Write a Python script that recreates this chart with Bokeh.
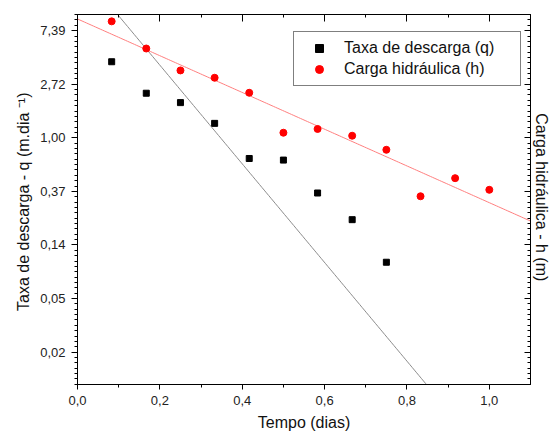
import math
import numpy as np
from bokeh.plotting import figure
from bokeh.models import (FixedTicker, LogAxis, LinearAxis, Range1d, DataRange1d,
                          Legend, LegendItem, Title)
from bokeh.embed import file_html
from bokeh.resources import INLINE

# ---- data ----
tempo = [0.083, 0.167, 0.25, 0.333, 0.417, 0.5, 0.583, 0.667, 0.75, 0.833, 0.917, 1.0]
taxa_q = [4.14, 2.30, 1.93, 1.31, 0.68, 0.66, 0.357, 0.217, 0.098]
carga_h = [8.8, 5.3, 3.52, 3.07, 2.32, 1.10, 1.18, 1.04, 0.80, 0.336, 0.471, 0.379]

# exponential fits  y = a * exp(-k t)
q_fit_a, q_fit_k = 24.5, 9.21
h_fit_a, h_fit_k = 9.2, 3.43

x_ticks = [0.0, 0.2, 0.4, 0.6, 0.8, 1.0]
x_tick_labels = ["0,0", "0,2", "0,4", "0,6", "0,8", "1,0"]
x_minor = [0.1, 0.3, 0.5, 0.7, 0.9]
y_exponents = [-4, -3, -2, -1, 0, 1, 2]
y_tick_labels = ["0,02", "0,05", "0,14", "0,37", "1,00", "2,72", "7,39"]

y_ticks = [math.exp(n) for n in y_exponents]
y_minor = [math.exp(n + k / 10) for n in range(-5, 3) for k in range(1, 10)]

FONT = "Liberation Sans"

p = figure(width=560, height=436, output_backend="svg", toolbar_location=None,
           y_axis_type="log", x_range=DataRange1d(start=0, end=1.1),
           y_range=Range1d(0.01, 10),
           min_border_left=77, min_border_right=30, min_border_top=14, min_border_bottom=52)
p.outline_line_color = "black"
p.xgrid.visible = False
p.ygrid.visible = False

def style(ax):
    ax.major_label_text_font = FONT
    ax.major_label_text_font_size = "13px"
    ax.major_label_text_color = "#222222"

# bottom axis
xa = p.xaxis[0]
xa.ticker = FixedTicker(ticks=x_ticks, minor_ticks=x_minor)
xa.major_label_overrides = dict(zip(x_ticks, x_tick_labels))
style(xa)
xa.major_tick_out = 5
xa.major_tick_in = 0
xa.minor_tick_out = 3
xa.minor_tick_in = 0
xa.major_label_standoff = 6

# left axis
ya = p.yaxis[0]
ya.ticker = FixedTicker(ticks=y_ticks, minor_ticks=y_minor)
ya.major_label_overrides = dict(zip(y_ticks, y_tick_labels))
style(ya)
ya.major_tick_out = 6
ya.major_tick_in = 0
ya.minor_tick_out = 3
ya.minor_tick_in = 0
ya.major_label_standoff = 6

# top axis (ticks only)
ta = LinearAxis(ticker=FixedTicker(ticks=x_ticks, minor_ticks=x_minor))
ta.major_tick_in = 7
ta.major_tick_out = 0
ta.minor_tick_in = 3
ta.minor_tick_out = 0
ta.major_label_text_font_size = "1px"
ta.major_label_text_color = None
ta.major_label_standoff = 0
p.add_layout(ta, "above")

# right axis (ticks only)
ra = LogAxis(ticker=FixedTicker(ticks=y_ticks, minor_ticks=y_minor))
ra.major_tick_in = 6
ra.major_tick_out = 0
ra.minor_tick_in = 3
ra.minor_tick_out = 0
ra.major_label_text_font_size = "1px"
ra.major_label_text_color = None
ra.major_label_standoff = 0
p.add_layout(ra, "right")

# axis titles
def title(text, side, standoff):
    t = Title(text=text, align="center", text_font=FONT, text_font_size="16px",
              text_font_style="normal", text_color="#111111", standoff=standoff)
    p.add_layout(t, side)

title("Tempo (dias)", "below", 9)
title("Taxa de descarga - q  (m.dia \u207b\u00b9)", "left", 12)
title("Carga hidr\u00e1ulica - h  (m)", "right", 5)

# fit lines
xf = np.linspace(0, 1.1, 200)
p.line(xf, q_fit_a * np.exp(-q_fit_k * xf), line_color="#8c8c8c", line_width=1)
p.line(xf, h_fit_a * np.exp(-h_fit_k * xf), line_color="#ff7f7f", line_width=1)

# points
rq = p.scatter(tempo[:len(taxa_q)], taxa_q, marker="square", size=6,
               fill_color="black", line_color="black")
rh = p.scatter(tempo, carga_h, marker="circle", size=7,
               fill_color="#ff0000", line_color="#ff0000")

legend = Legend(items=[LegendItem(label="Taxa de descarga (q)", renderers=[rq]),
                       LegendItem(label="Carga hidr\u00e1ulica (h)", renderers=[rh])],
                location=(216, 298))
legend.label_text_font = FONT
legend.label_text_font_size = "16px"
legend.label_text_color = "#111111"
legend.border_line_color = "black"
legend.border_line_width = 1
legend.background_fill_color = "white"
legend.background_fill_alpha = 1
legend.padding = 6
legend.spacing = 1
legend.margin = 0
legend.glyph_width = 38
legend.glyph_height = 20
legend.label_height = 19
legend.label_standoff = 6
legend.label_width = 170
p.add_layout(legend)

open("out.html", "w").write(file_html(p, INLINE))
